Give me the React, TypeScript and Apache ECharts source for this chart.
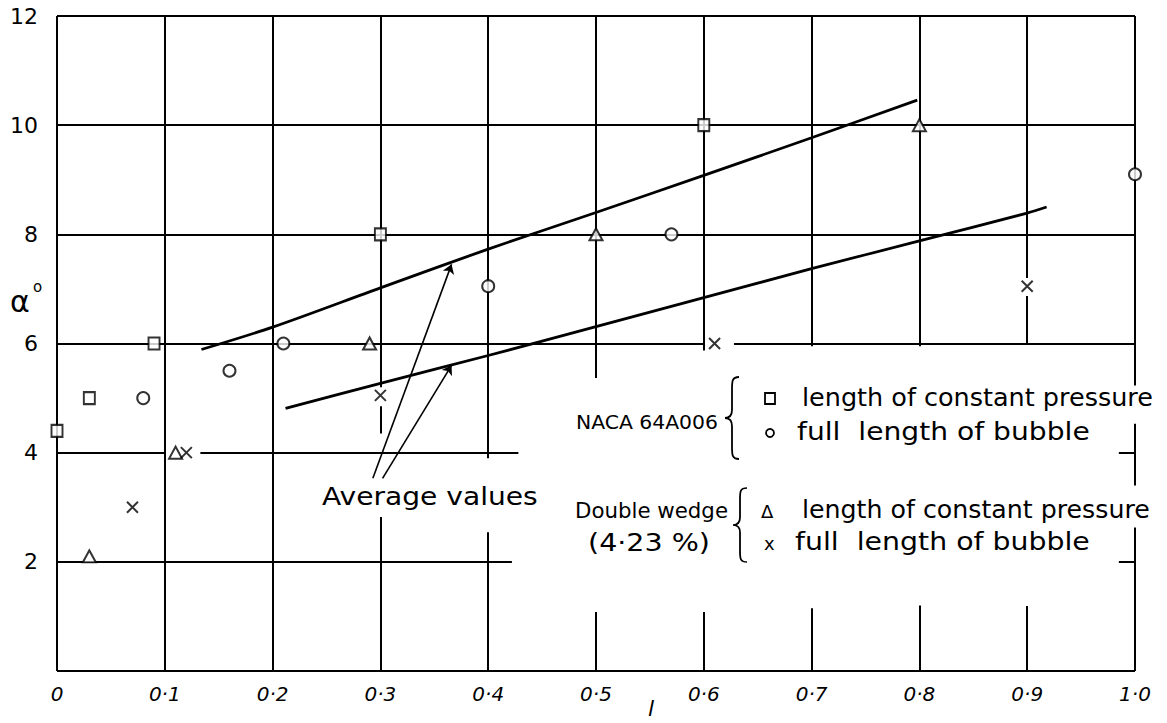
import React, { useEffect, useRef } from "react";
import * as echarts from "echarts";

// ---- data ----
const xTickLabels = ["0", "0·1", "0·2", "0·3", "0·4", "0·5", "0·6", "0·7", "0·8", "0·9", "1·0"];
const yTickLabels = ["", "2", "4", "6", "8", "10", "12"];

// NACA 64A006
const nacaConstX = [0, 0.03, 0.09, 0.3, 0.6];
const nacaConstY = [4.4, 5, 6, 8, 10];
const nacaBubbleX = [0.08, 0.16, 0.21, 0.4, 0.57, 1.0];
const nacaBubbleY = [5, 5.5, 6, 7.05, 8, 9.1];
// Double wedge (4.23 %)
const wedgeConstX = [0.03, 0.11, 0.29, 0.5, 0.8];
const wedgeConstY = [2.1, 4, 6, 8, 10];
const wedgeBubbleX = [0.07, 0.12, 0.3, 0.61, 0.9];
const wedgeBubbleY = [3, 4, 5.05, 6, 7.05];

// average value curves
const avgUpperX = [0.134, 0.2, 0.3, 0.4, 0.5, 0.6, 0.7, 0.798];
const avgUpperY = [5.89, 6.3, 7.02, 7.73, 8.4, 9.08, 9.77, 10.46];
const avgLowerX = [0.212, 0.3, 0.4, 0.5, 0.6, 0.7, 0.8, 0.9, 0.918];
const avgLowerY = [4.81, 5.27, 5.78, 6.31, 6.84, 7.37, 7.88, 8.39, 8.5];

// arrows from "Average values" label: [x1, y1, x2, y2]
const arrowSegments = [
  [0.293, 3.53, 0.366, 7.45],
  [0.302, 3.53, 0.366, 5.6],
];

// hand-drawn grid with its breaks: [x1, y1, x2, y2]
const gridSegments = [
  [0, 12, 1, 12], [0, 10, 1, 10], [0, 8, 1, 8],
  [0, 6, 0.6, 6], [0.628, 6, 1, 6],
  [0, 4, 0.1, 4], [0.133, 4, 0.428, 4], [0.985, 4, 1, 4],
  [0, 2, 0.422, 2], [0.985, 2, 1, 2],
  [0, 0, 1, 0],
  [0, 0, 0, 12], [0.1, 0, 0.1, 12], [0.2, 0, 0.2, 12],
  [0.3, 5.2, 0.3, 12], [0.3, 4.35, 0.3, 4.85], [0.3, 0, 0.3, 2.82],
  [0.4, 3.9, 0.4, 12], [0.4, 0, 0.4, 2.54],
  [0.5, 5.37, 0.5, 12], [0.5, 0, 0.5, 1.08],
  [0.6, 5.87, 0.6, 12], [0.6, 0, 0.6, 1.08],
  [0.7, 5.95, 0.7, 12], [0.7, 0, 0.7, 1.15],
  [0.8, 5.95, 0.8, 12], [0.8, 0, 0.8, 1.2],
  [0.9, 6, 0.9, 6.87], [0.9, 7.2, 0.9, 12], [0.9, 0, 0.9, 1.19],
  [1, 5.23, 1, 12], [1, 3.4, 1, 4.53], [1, 0, 1, 2.63],
];

const FONT = "DejaVu Sans";
const INK = "#000";

const zip = (xs: number[], ys: number[]) => xs.map((x, i) => [x, ys[i]]);

const BRACE_D =
  "M14,0 C7,0 7,4 7,12 L7,32 C7,37 5,40 0,40 C5,40 7,43 7,48 L7,68 C7,76 7,80 14,80";
let braceRegistered = false;

function measure(text: string, size: number) {
  const ctx = document.createElement("canvas").getContext("2d")!;
  ctx.font = `${size}px "${FONT}"`;
  return ctx.measureText(text).width || text.length * size * 0.55;
}

export default function App() {
  const ref = useRef<HTMLDivElement>(null);

  useEffect(() => {
    document.body.style.margin = "0";
    if (!braceRegistered) {
      echarts.graphic.registerShape("brace", echarts.graphic.extendPath(BRACE_D, {}) as any);
      braceRegistered = true;
    }
    const chart = echarts.init(ref.current!, null, { renderer: "svg" });

    const markerStyle = { color: "#fff", borderColor: INK, borderWidth: 2 };

    // text stretched horizontally to span x1..x2, vertically centred on yc
    const fit = (text: string, x1: number, x2: number, yc: number, size: number, extra: any = {}) => ({
      type: "text",
      x: x1,
      y: yc,
      scaleX: (x2 - x1) / measure(text, size),
      z: 10,
      style: {
        text,
        fontSize: size,
        fontFamily: FONT,
        fill: INK,
        verticalAlign: "middle",
        ...extra,
      },
    });
    const txt = (text: string, x: number, y: number, size: number, extra: any = {}) => ({
      type: "text",
      x,
      y,
      z: 10,
      style: { text, fontSize: size, fontFamily: FONT, fill: INK, verticalAlign: "middle", ...extra },
    });
    const brace = (x: number, y: number, h: number) => ({
      type: "brace",
      x,
      y,
      scaleY: h / 80,
      z: 10,
      style: { fill: "none", stroke: INK, lineWidth: 1.8 },
    });

    chart.setOption({
      animation: false,
      backgroundColor: "#fff",
      grid: { left: 57, right: 32, top: 16, bottom: 52 },
      xAxis: {
        type: "value",
        min: 0,
        max: 1,
        interval: 0.1,
        axisLine: { show: false },
        axisTick: { show: false },
        splitLine: { show: false },
        axisLabel: {
          formatter: (v: number) => xTickLabels[Math.round(v * 10)] ?? "",
          fontSize: 20,
          fontFamily: FONT,
          fontStyle: "italic",
          color: INK,
          margin: 13,
        },
      },
      yAxis: {
        type: "value",
        min: 0,
        max: 12,
        interval: 2,
        axisLine: { show: false },
        axisTick: { show: false },
        splitLine: { show: false },
        axisLabel: {
          formatter: (v: number) => yTickLabels[Math.round(v / 2)] ?? "",
          fontSize: 22,
          fontFamily: FONT,
          color: INK,
          margin: 19,
        },
      },
      series: [
        {
          type: "lines",
          coordinateSystem: "cartesian2d",
          silent: true,
          z: 1,
          lineStyle: { color: INK, width: 2, opacity: 1 },
          data: gridSegments.map((s) => ({ coords: [[s[0], s[1]], [s[2], s[3]]] })),
        },
        {
          type: "lines",
          coordinateSystem: "cartesian2d",
          silent: true,
          z: 2,
          symbol: ["none", "arrow"],
          symbolSize: 9,
          lineStyle: { color: INK, width: 1.6, opacity: 1 },
          data: arrowSegments.map((s) => ({ coords: [[s[0], s[1]], [s[2], s[3]]] })),
        },
        {
          name: "avg upper",
          type: "line",
          smooth: 0.3,
          showSymbol: false,
          symbol: "none",
          z: 3,
          lineStyle: { color: INK, width: 2.8 },
          data: zip(avgUpperX, avgUpperY),
        },
        {
          name: "avg lower",
          type: "line",
          smooth: 0.3,
          showSymbol: false,
          symbol: "none",
          z: 3,
          lineStyle: { color: INK, width: 2.8 },
          data: zip(avgLowerX, avgLowerY),
        },
        {
          name: "NACA 64A006 length of constant pressure",
          type: "scatter",
          symbol: "rect",
          symbolSize: [11, 12],
          z: 5,
          itemStyle: markerStyle,
          data: zip(nacaConstX, nacaConstY),
        },
        {
          name: "NACA 64A006 full length of bubble",
          type: "scatter",
          symbol: "circle",
          symbolSize: 12,
          z: 5,
          itemStyle: markerStyle,
          data: zip(nacaBubbleX, nacaBubbleY),
        },
        {
          name: "Double wedge length of constant pressure",
          type: "scatter",
          symbol: "triangle",
          symbolSize: [13, 12],
          z: 5,
          itemStyle: markerStyle,
          data: zip(wedgeConstX, wedgeConstY),
        },
        {
          name: "Double wedge full length of bubble",
          type: "scatter",
          symbol: "path://M0,0L10,10M10,0L0,10",
          symbolSize: 11,
          z: 5,
          itemStyle: { color: "none", borderColor: INK, borderWidth: 2 },
          data: zip(wedgeBubbleX, wedgeBubbleY),
        },
      ],
      graphic: [
        txt("α", 10, 301, 30),
        txt("o", 33, 287, 15),
        txt("l", 648, 708, 22, { fontStyle: "italic" }),
        fit("Average values", 322, 538, 497, 24),
        // NACA block
        fit("NACA 64A006", 576, 718, 422, 20),
        brace(725, 377, 82),
        {
          type: "rect",
          z: 10,
          shape: { x: 765, y: 393, width: 10, height: 11 },
          style: { fill: "#fff", stroke: INK, lineWidth: 1.8 },
        },
        { type: "circle", z: 10, shape: { cx: 770, cy: 433, r: 4 }, style: { fill: "#fff", stroke: INK, lineWidth: 1.8 } },
        fit("length of constant pressure", 802, 1153, 398, 24),
        fit("full  length of bubble", 797, 1090, 432, 24),
        // Double wedge block
        fit("Double wedge", 575, 728, 510, 22),
        fit("(4·23 %)", 588, 710, 543, 24),
        brace(733, 488, 74),
        txt("Δ", 761, 511, 18),
        txt("x", 764, 543, 18),
        fit("length of constant pressure", 802, 1150, 510, 24),
        fit("full  length of bubble", 795, 1090, 542, 24),
      ],
    });

    return () => chart.dispose();
  }, []);

  return <div ref={ref} style={{ width: 1167, height: 723 }} />;
}
